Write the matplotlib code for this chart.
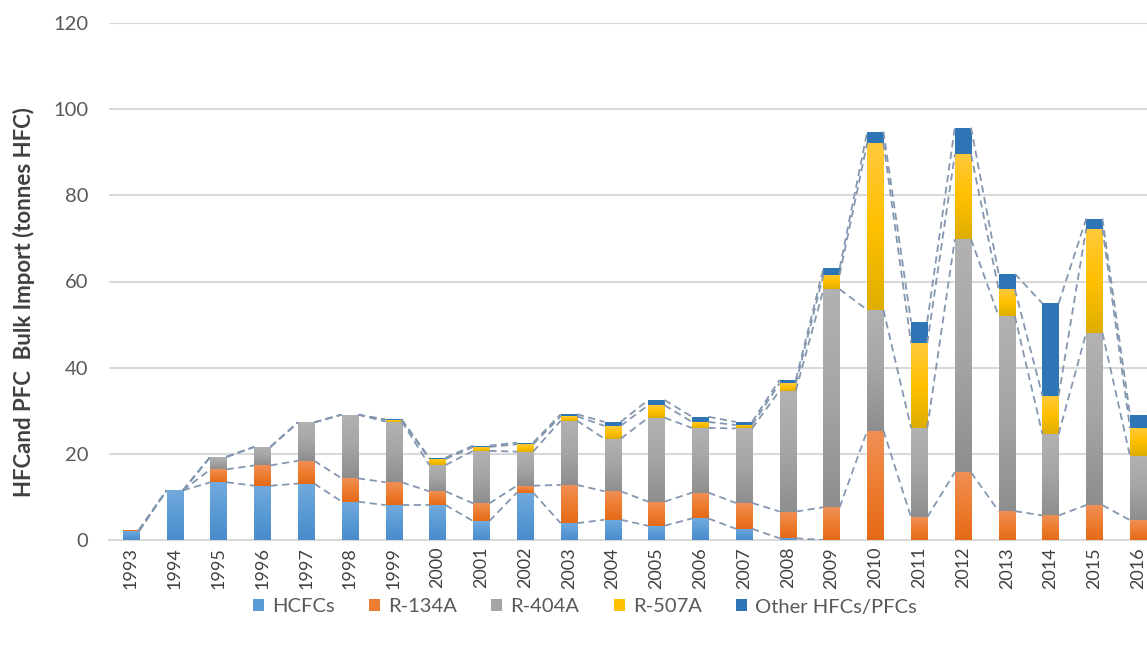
import numpy as np
import matplotlib
matplotlib.use("Agg")
import matplotlib.pyplot as plt
from matplotlib.patches import Patch
from matplotlib.colors import LinearSegmentedColormap

years = [str(y) for y in range(1993, 2017)]
nan = np.nan
hcfcs = [2.0, 11.5, 13.4, 12.6, 13.1, 8.9, 8.1, 8.1, 4.4, 11.0, 3.9, 4.7, 3.3, 5.0, 2.6, 0.4, 0.0,
         nan, nan, nan, nan, nan, nan, nan]
r134a = [0.3, 0.0, 3.0, 4.7, 5.3, 5.4, 5.3, 3.2, 4.1, 1.6, 8.9, 6.6, 5.6, 6.0, 6.0, 6.2, 7.6,
         25.4, 5.3, 15.7, 6.7, 5.7, 8.1, 4.6]
r404a = [0.0, 0.0, 2.9, 4.3, 8.9, 14.8, 14.1, 6.1, 12.2, 7.9, 14.9, 12.2, 19.5, 15.0, 17.3, 28.1, 50.6,
         28.0, 20.7, 54.1, 45.3, 18.9, 40.0, 14.9]
r507a = [0.0, 0.0, 0.0, 0.0, 0.0, 0.0, 0.3, 1.4, 0.9, 1.7, 1.0, 3.0, 2.9, 1.4, 0.8, 1.7, 3.4,
         38.8, 19.7, 19.7, 6.2, 8.9, 24.2, 6.5]
other = [0.0, 0.0, 0.0, 0.0, 0.0, 0.0, 0.2, 0.3, 0.3, 0.4, 0.5, 0.9, 1.2, 1.2, 0.7, 0.8, 1.5,
         2.6, 5.0, 6.2, 3.6, 21.4, 2.3, 3.0]

names = ["HCFCs", "R-134A", "R-404A", "R-507A", "Other HFCs/PFCs"]
colors = ["#5B9BD5", "#ED7D31", "#A5A5A5", "#FFC000", "#2E75B6"]
# gradient (bottom -> top) for each series
grads = [["#4A8BCB", "#5B9BD5", "#72AADD"],
         ["#E56A17", "#ED7D31", "#F08F55"],
         ["#8E8E8E", "#A5A5A5", "#B2B2B2"],
         ["#DFAE00", "#FFC000", "#FFC93C"],
         ["#2E75B6", "#2E75B6", "#2F76B7"]]
series = [hcfcs, r134a, r404a, r507a, other]

plt.rcParams['font.family'] = ['Lato', 'DejaVu Sans']

fig = plt.figure(figsize=(11.47, 6.46), dpi=100)
ax = fig.add_axes([109/1147, 1 - 540/646, (1160 - 109)/1147, (540 - 23)/646])

x = np.arange(len(years))
w = 0.37
bottom = np.zeros(len(years))
tops = []
grad_img = np.linspace(1, 0, 64).reshape(-1, 1)
for vals, c, n, g in zip(series, colors, names, grads):
    v = np.array(vals, dtype=float)
    vv = np.nan_to_num(v)
    bars = ax.bar(x, vv, w, bottom=bottom, color=c, label=n, zorder=3, linewidth=0)
    cmap = LinearSegmentedColormap.from_list("g", g)
    for b in bars:
        if b.get_height() <= 0:
            continue
        x0, y0 = b.get_x(), b.get_y()
        im = ax.imshow(grad_img, cmap=cmap, vmin=0, vmax=1, aspect="auto",
                       extent=(x0, x0 + b.get_width(), y0, y0 + b.get_height()),
                       zorder=3.1, interpolation="bilinear")
        im.set_clip_path(b)
    top = bottom + v
    tops.append(top)
    bottom = bottom + vv

# Excel-style series lines
for top in tops:
    for i in range(len(years) - 1):
        if np.isnan(top[i]) or np.isnan(top[i + 1]):
            continue
        ax.plot([x[i] + w / 2, x[i + 1] - w / 2], [top[i], top[i + 1]],
                color="#8497B0", lw=1.3, ls=(0, (4, 2.5)), zorder=4)

ax.set_xlim(-0.5, len(years) - 0.5)
ax.set_ylim(0, 120)
ax.set_yticks(range(0, 121, 20))
ax.yaxis.grid(True, color="#D9D9D9", lw=1.5, zorder=0)
ax.set_axisbelow(True)
for s in ["top", "right", "left"]:
    ax.spines[s].set_visible(False)
ax.spines["bottom"].set_color("#D9D9D9")
ax.spines["bottom"].set_linewidth(1.5)
ax.tick_params(axis="y", length=0, labelsize=14.5, labelcolor="#595959", pad=15)
ax.tick_params(axis="x", length=0, labelsize=13, labelcolor="#404040", pad=5)
ax.set_xticks(x)
ax.set_xticklabels(years, rotation=90)
ax.set_ylabel("HFCand PFC  Bulk Import (tonnes HFC)", fontsize=16, fontweight="bold",
              color="#404040")
ax.yaxis.set_label_coords((35 - 109) / 1051, (540 - 302) / 517)

handles = [Patch(facecolor=c, edgecolor="none") for c in colors]
fig.legend(handles, names, loc="center", bbox_to_anchor=(585/1147, 1 - 607/646), ncol=5,
           frameon=False, fontsize=14.5, labelcolor="#595959", handlelength=0.55, handleheight=0.55,
           handletextpad=0.4, columnspacing=1.7)

fig.savefig("out.png", dpi=100)
